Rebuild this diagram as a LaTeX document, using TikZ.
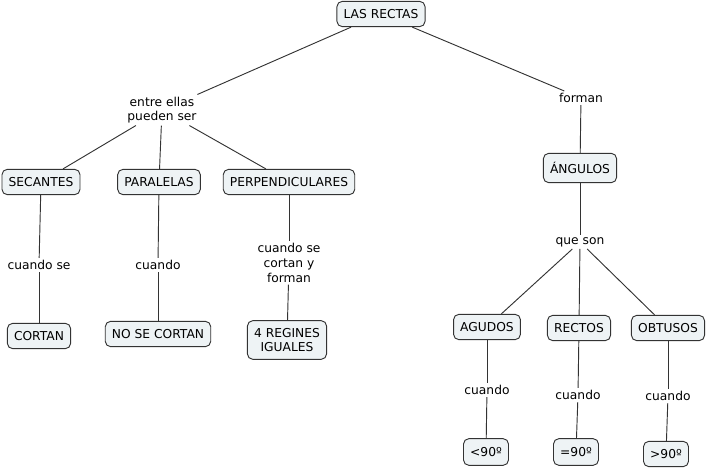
\documentclass[tikz,border=0pt]{standalone}
\usepackage{fontspec}
\setmainfont{DejaVu Sans}
\definecolor{boxfill}{HTML}{EEF3F5}
\definecolor{edge}{HTML}{333333}
\begin{document}
\begin{tikzpicture}[x=0.75pt,y=-0.75pt,
  concept/.style={draw=edge,fill=boxfill,rounded corners=4pt,line width=0.7pt,font=\fontsize{9.2}{11}\selectfont,inner xsep=5pt,minimum height=19pt,align=center},
  lbl/.style={font=\fontsize{9.2}{11}\selectfont,align=center,inner sep=1.5pt,fill=white},
  link/.style={draw=edge,line width=0.7pt}]
\useasboundingbox (0,0) rectangle (708,468);
\node[concept] (rectas) at (381,14) {LAS RECTAS};
\node[lbl] (entre) at (162,110) {entre ellas\\pueden ser};
\node[lbl] (forman) at (581,98) {forman};
\node[concept] (sec) at (41,182) {SECANTES};
\node[concept] (par) at (159,182) {PARALELAS};
\node[concept] (perp) at (289,182) {PERPENDICULARES};
\node[concept,minimum height=22pt] (ang) at (580,168) {ÁNGULOS};
\node[lbl] (c1) at (39,265) {cuando se};
\node[lbl] (c2) at (158,265) {cuando};
\node[lbl] (c3) at (289,263) {cuando se\\cortan y\\forman};
\node[concept] (cortan) at (39,336) {CORTAN};
\node[concept] (nocortan) at (158,334) {NO SE CORTAN};
\node[concept,minimum height=29pt] (reg) at (287,340) {4 REGINES\\IGUALES};
\node[lbl] (que) at (580,242) {que son};
\node[concept] (agu) at (487,327) {AGUDOS};
\node[concept] (rec) at (579,328) {RECTOS};
\node[concept] (obt) at (668,328) {OBTUSOS};
\node[lbl] (c4) at (487,390) {cuando};
\node[lbl] (c5) at (578,395) {cuando};
\node[lbl] (c6) at (668,396) {cuando};
\node[concept,minimum height=20pt] (a1) at (486,452) {<90º};
\node[concept,minimum height=20pt] (a2) at (576,452) {=90º};
\node[concept] (a3) at (666,454) {>90º};
\path[link] (rectas) -- (entre);
\path[link] (rectas) -- (forman);
\path[link] (entre) -- (sec);
\path[link] (entre) -- (par);
\path[link] (entre) -- (perp);
\path[link] (forman) -- (ang);
\path[link] (sec) -- (c1);
\path[link] (c1) -- (cortan);
\path[link] (par) -- (c2);
\path[link] (c2) -- (nocortan);
\path[link] (perp) -- (c3);
\path[link] (c3) -- (reg);
\path[link] (ang) -- (que);
\path[link] (que) -- (agu);
\path[link] (que) -- (rec);
\path[link] (que) -- (obt);
\path[link] (agu) -- (c4);
\path[link] (c4) -- (a1);
\path[link] (rec) -- (c5);
\path[link] (c5) -- (a2);
\path[link] (obt) -- (c6);
\path[link] (c6) -- (a3);
\end{tikzpicture}
\end{document}
